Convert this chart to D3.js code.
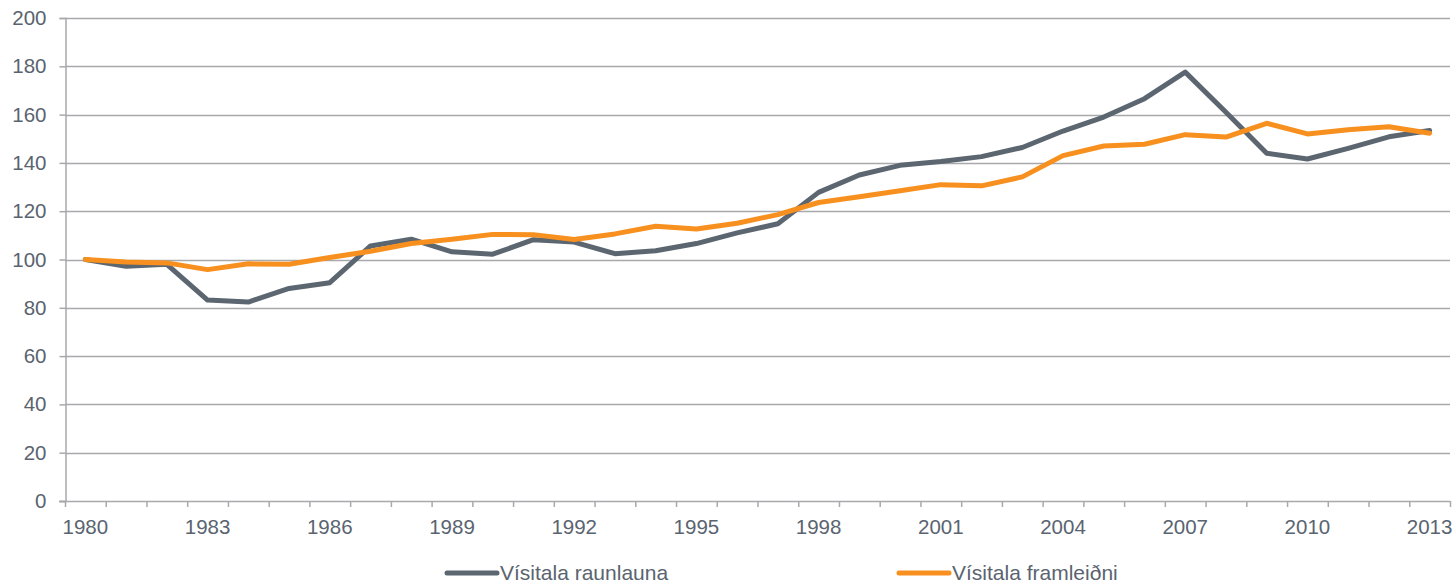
<!DOCTYPE html>
<html>
<head>
<meta charset="utf-8">
<script src="https://cdn.jsdelivr.net/npm/d3@7"></script>
<style>
  html, body { margin: 0; padding: 0; background: #fff; }
  svg text { font-family: "Liberation Sans", Arial, sans-serif; fill: #5a6470; }
</style>
</head>
<body>
<svg id="chart" width="1452" height="583"></svg>
<script>
// Ár (flokkar á x-ás)
const years = d3.range(1980, 2014);

// Vísitala raunlauna (grá lína)
const raunlaun = [
  100, 97.2, 98, 83.2, 82.4, 88, 90.4, 105.6, 108.4, 103.2,
  102.2, 108.2, 107.2, 102.4, 103.6, 106.6, 111, 114.8, 127.8, 135,
  139, 140.6, 142.6, 146.4, 153.2, 159, 166.6, 177.6, 161, 144,
  141.6, 146, 150.8, 153.4
];

// Vísitala framleiðni (appelsínugul lína)
const framleidni = [
  100, 99, 98.6, 95.8, 98.2, 98, 100.8, 103.4, 106.6, 108.4,
  110.4, 110.3, 108.3, 110.6, 113.8, 112.6, 115, 118.6, 123.6, 126,
  128.5, 131, 130.5, 134.2, 143, 147, 147.7, 151.7, 150.7, 156.4,
  152, 153.7, 155, 152.3
];

const yTicks = d3.range(0, 201, 20);

const series = [
  { name: "Vísitala raunlauna", values: raunlaun, color: "#5b6670" },
  { name: "Vísitala framleiðni", values: framleidni, color: "#f7901e" }
];

const margin = { top: 18, right: 2, bottom: 82, left: 65 };
const W = 1452, H = 583;
const fontSize = "20.5px";
const svg = d3.select("#chart");

const x = d3.scaleBand()
  .domain(years)
  .range([margin.left, W - margin.right])
  .paddingInner(0).paddingOuter(0);

const y = d3.scaleLinear()
  .domain([0, 200])
  .range([H - margin.bottom, margin.top]);

const gridColor = "#a7a9ac";

// gridlínur
svg.append("g")
  .selectAll("line")
  .data(yTicks.filter(d => d > 0))
  .join("line")
  .attr("x1", margin.left)
  .attr("x2", W - margin.right)
  .attr("y1", d => Math.round(y(d)) + 0.5)
  .attr("y2", d => Math.round(y(d)) + 0.5)
  .attr("stroke", gridColor)
  .attr("stroke-width", 1.5);

// y-ás
const yAxis = svg.append("g")
  .attr("transform", `translate(${margin.left + 0.5},0)`)
  .call(d3.axisLeft(y).tickValues(yTicks).tickSize(6).tickPadding(13));
yAxis.select(".domain").attr("stroke", gridColor).attr("stroke-width", 1.5);
yAxis.selectAll(".tick line").attr("stroke", gridColor).attr("stroke-width", 1.5);
yAxis.selectAll(".tick text")
  .attr("font-family", null)
  .attr("font-size", null)
  .style("font-size", fontSize)
  .attr("fill", "#5a6470");

// x-ás: merki á mörkum flokka, texti á þriggja ára fresti
const xEdges = years.map(d => x(d)).concat([x(years[years.length - 1]) + x.bandwidth()]);
const xAxisG = svg.append("g");
xAxisG.append("line")
  .attr("x1", margin.left - 6)
  .attr("x2", W - margin.right)
  .attr("y1", Math.round(y(0)) + 0.5)
  .attr("y2", Math.round(y(0)) + 0.5)
  .attr("stroke", gridColor)
  .attr("stroke-width", 1.5);
xAxisG.selectAll("line.tk")
  .data(xEdges)
  .join("line")
  .attr("class", "tk")
  .attr("x1", d => d + 0.5)
  .attr("x2", d => d + 0.5)
  .attr("y1", y(0))
  .attr("y2", y(0) + 6)
  .attr("stroke", gridColor)
  .attr("stroke-width", 1.5);
xAxisG.selectAll("text")
  .data(years.filter((d, i) => i % 3 === 0))
  .join("text")
  .attr("x", d => x(d) + x.bandwidth() / 2)
  .attr("y", y(0) + 33)
  .attr("text-anchor", "middle")
  .style("font-size", fontSize)
  .text(d => d);

// línur
const line = d3.line()
  .x((d, i) => x(years[i]) + x.bandwidth() / 2)
  .y(d => y(d));

svg.append("g")
  .selectAll("path")
  .data(series)
  .join("path")
  .attr("d", d => line(d.values))
  .attr("fill", "none")
  .attr("stroke", d => d.color)
  .attr("stroke-width", 5)
  .attr("stroke-linejoin", "round")
  .attr("stroke-linecap", "round");

// skýringar
const legendX = [445, 897];
const legend = svg.append("g")
  .selectAll("g")
  .data(series)
  .join("g")
  .attr("transform", (d, i) => `translate(${legendX[i]},573)`);
legend.append("line")
  .attr("x1", 2).attr("x2", 52)
  .attr("stroke", d => d.color)
  .attr("stroke-width", 5)
  .attr("stroke-linecap", "round");
legend.append("text")
  .attr("x", 55)
  .attr("dy", "0.35em")
  .style("font-size", "21px")
  .text(d => d.name);
</script>
</body>
</html>
